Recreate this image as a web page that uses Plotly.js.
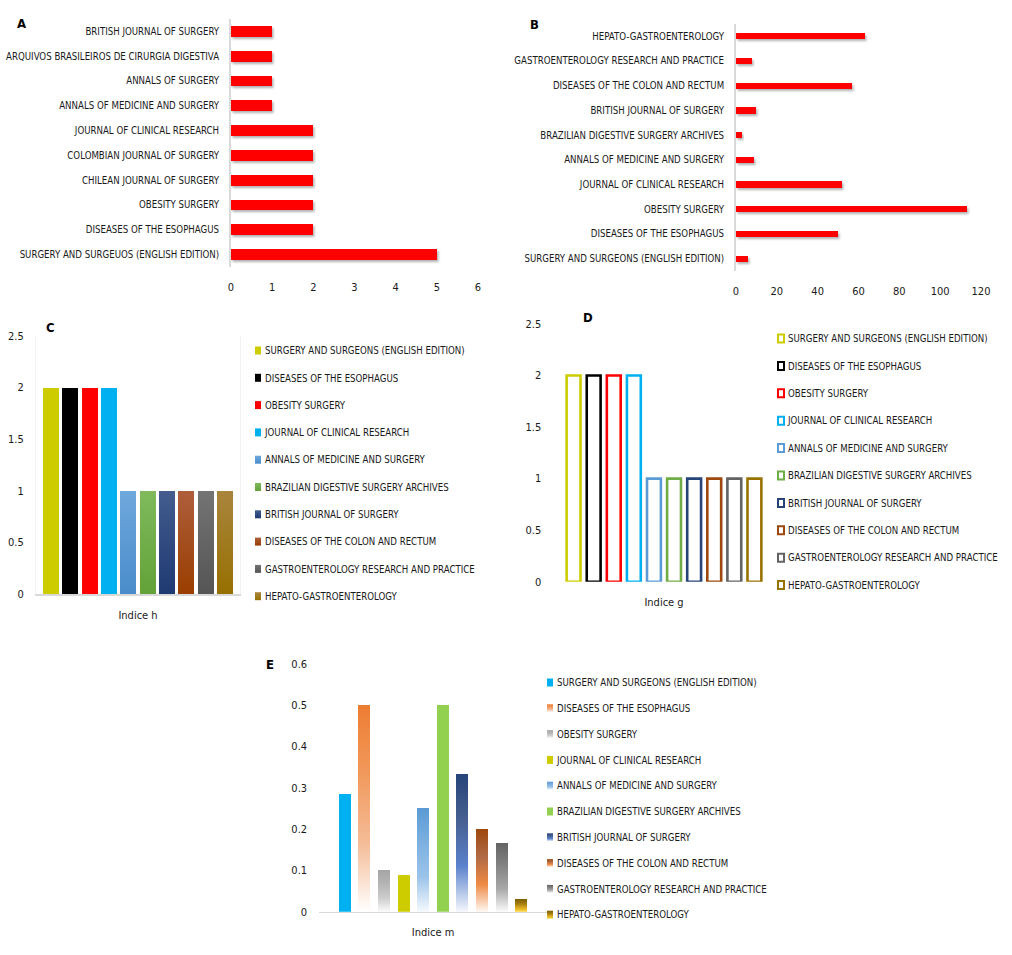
<!DOCTYPE html>
<html>
<head>
<meta charset="utf-8">
<script src="https://cdn.plot.ly/plotly-3.0.1.min.js"></script>
<style>
  body { margin: 0; background: #fff; }
  #chart { width: 1012px; height: 955px; }
  #grads { position: absolute; width: 0; height: 0; }
</style>
</head>
<body>
<svg id="grads"><defs id="gradDefs"></defs></svg>
<div id="chart"></div>
<script>
// panel A: number of articles (bottom to top)
const catA = ['SURGERY AND SURGEUOS (ENGLISH EDITION)', 'DISEASES OF THE ESOPHAGUS', 'OBESITY SURGERY',
  'CHILEAN JOURNAL OF SURGERY', 'COLOMBIAN JOURNAL OF SURGERY', 'JOURNAL OF CLINICAL RESEARCH',
  'ANNALS OF MEDICINE AND SURGERY', 'ANNALS OF SURGERY', 'ARQUIVOS BRASILEIROS DE CIRURGIA DIGESTIVA',
  'BRITISH JOURNAL OF SURGERY'];
const valA = [5, 2, 2, 2, 2, 2, 1, 1, 1, 1];

// journals used in B, C, D, E
const journals = ['SURGERY AND SURGEONS (ENGLISH EDITION)', 'DISEASES OF THE ESOPHAGUS', 'OBESITY SURGERY',
  'JOURNAL OF CLINICAL RESEARCH', 'ANNALS OF MEDICINE AND SURGERY', 'BRAZILIAN DIGESTIVE SURGERY ARCHIVES',
  'BRITISH JOURNAL OF SURGERY', 'DISEASES OF THE COLON AND RECTUM', 'GASTROENTEROLOGY RESEARCH AND PRACTICE',
  'HEPATO-GASTROENTEROLOGY'];
const valB = [6, 50, 113, 52, 9, 3, 10, 57, 8, 63];
const hIndex = [2, 2, 2, 2, 1, 1, 1, 1, 1, 1];
const gIndex = [2, 2, 2, 2, 1, 1, 1, 1, 1, 1];
const mIndex = [0.286, 0.5, 0.1, 0.09, 0.25, 0.5, 0.333, 0.2, 0.167, 0.03];

// colours
const colC = ['#CCCC00', '#000000', '#FF0000', '#00B0F0', '#5B9BD5', '#70AD47', '#264478', '#9E480E', '#636363', '#997300'];
const gradC = [null, null, null, null,
  ['#6FA8DC', '#4A8CCB'], ['#80BA5C', '#62A238'], ['#445C8E', '#1E3A72'],
  ['#AE5E3C', '#9A3E00'], ['#747474', '#555555'], ['#A9853E', '#977000']];
const colE = ['#00B0F0', '#ED7D31', '#A5A5A5', '#CCCC00', '#5B9BD5', '#92D050', '#264478', '#9E480E', '#636363', '#7F6000'];
const gradE = [null,
  ['#ED7D31', '#F1995C', '#F5BC97', '#FFFFFF'],
  ['#A5A5A5', '#B5B5B5', '#CDCDCD', '#FAFAFA'],
  null,
  ['#5B9BD5', '#7DB0E0', '#9CC4EA', '#F5F9FD'],
  null,
  ['#264478', '#475F91', '#5A82CC', '#F5F7FC'],
  ['#9E480E', '#B06A45', '#EE8A45', '#FFF8F2'],
  ['#636363', '#838383', '#A8A8A8', '#FAFAFA'],
  ['#7F6000', '#9E7A10', '#D8A820', '#FFD740']];

const FONT = '"DejaVu Sans Condensed", "Liberation Sans", sans-serif';
const W = 1012, H = 955;
const px = v => v / W;
const py = v => 1 - v / H;

const data = [];
data.push({
  type: 'bar', orientation: 'h', x: valA, y: catA, xaxis: 'x', yaxis: 'y',
  width: 0.44, marker: {color: '#FF0000'}, showlegend: false
});
data.push({
  type: 'bar', orientation: 'h', x: valB, y: journals, xaxis: 'x2', yaxis: 'y2',
  width: 0.25, marker: {color: '#FF0000'}, showlegend: false
});
journals.forEach((name, i) => {
  data.push({
    type: 'bar', name: name, x: ['Indice h'], y: [hIndex[i]], xaxis: 'x3', yaxis: 'y3',
    width: 0.083, marker: {color: colC[i]}, legend: 'legend', legendgroup: 'c' + i
  });
});
journals.forEach((name, i) => {
  data.push({
    type: 'bar', name: name, x: ['Indice g'], y: [gIndex[i]], xaxis: 'x4', yaxis: 'y4',
    width: 0.069, marker: {color: '#FFFFFF', line: {color: colC[i], width: 2.6}},
    legend: 'legend2', legendgroup: 'd' + i
  });
});
journals.forEach((name, i) => {
  data.push({
    type: 'bar', name: name, x: ['Indice m'], y: [mIndex[i]], xaxis: 'x5', yaxis: 'y5',
    width: 0.061, marker: {color: colE[i]}, legend: 'legend3', legendgroup: 'e' + i
  });
});

const tickFont = {family: FONT, size: 9.6, color: '#1a1a1a'};
const numFont = {family: FONT, size: 11, color: '#1a1a1a'};
const hidden = 'rgba(0,0,0,0)';

function valueAxis(extra) {
  return Object.assign({
    showgrid: false, zeroline: false, showline: false, tickfont: numFont,
    ticks: 'outside', tickcolor: hidden, fixedrange: true, automargin: false
  }, extra);
}

function legendBox(x, y, gap) {
  return {
    x: px(x), y: py(y), xanchor: 'left', yanchor: 'top', bgcolor: hidden, borderwidth: 0,
    traceorder: 'grouped', tracegroupgap: gap, font: {family: FONT, size: 9.6, color: '#1a1a1a'}
  };
}

function label(t, x, y) {
  return {text: '<b>' + t + '</b>', xref: 'paper', yref: 'paper', x: px(x), y: py(y),
    xanchor: 'center', yanchor: 'middle',
    showarrow: false, font: {family: FONT, size: 13, color: '#000'}};
}

const layout = {
  width: W, height: H, margin: {l: 0, r: 0, t: 0, b: 0, autoexpand: false},
  paper_bgcolor: '#fff', plot_bgcolor: hidden,
  barmode: 'group', bargap: 0, bargroupgap: 0,
  showlegend: true, hovermode: false,
  font: {family: FONT, size: 11, color: '#1a1a1a'},
  // A
  xaxis: valueAxis({domain: [px(231), px(478)], range: [0, 6], dtick: 1, anchor: 'y', ticklen: 10}),
  yaxis: valueAxis({domain: [py(267), py(19)], anchor: 'x', showline: true, linecolor: '#D9D9D9',
    linewidth: 2, ticklen: 8, type: 'category', tickfont: tickFont}),
  // B
  xaxis2: valueAxis({domain: [px(736), px(981)], range: [0, 120], dtick: 20, anchor: 'y2', ticklen: 10}),
  yaxis2: valueAxis({domain: [py(271), py(24)], anchor: 'x2', showline: true, linecolor: '#D9D9D9',
    linewidth: 2, ticklen: 8, type: 'category', tickfont: tickFont}),
  // C
  xaxis3: valueAxis({domain: [px(36), px(240)], range: [-0.5285, 0.5285], anchor: 'y3', type: 'category',
    showline: true, linecolor: '#D9D9D9', linewidth: 1.5, ticklen: 10}),
  yaxis3: valueAxis({domain: [py(594), py(336)], range: [0, 2.5], dtick: 0.5, anchor: 'x3', ticklen: 9,
    showline: true, mirror: true, linecolor: '#F2F2F2', linewidth: 1}),
  // D
  xaxis4: valueAxis({domain: [px(557.5), px(770.5)], range: [-0.53, 0.53], anchor: 'y4', type: 'category', ticklen: 10}),
  yaxis4: valueAxis({domain: [py(581.7), py(324)], range: [0, 2.5], dtick: 0.5, anchor: 'x4', ticklen: 13}),
  // E
  xaxis5: valueAxis({domain: [px(319.3), px(546.7)], range: [-0.58, 0.58], anchor: 'y5', type: 'category',
    showline: true, linecolor: '#D9D9D9', linewidth: 1.5, ticklen: 10}),
  yaxis5: valueAxis({domain: [py(911.7), py(664)], range: [0, 0.6], dtick: 0.1, anchor: 'x5', ticklen: 9}),
  legend: legendBox(225, 336, 8.3),
  legend2: legendBox(748, 324, 8.4),
  legend3: legendBox(517, 668, 6.8),
  annotations: [label('A', 21, 23.5), label('B', 534, 24), label('C', 50, 327), label('D', 588, 317), label('E', 269.5, 664.5)]
};

function addGradient(id, stops) {
  const ns = 'http://www.w3.org/2000/svg';
  const g = document.createElementNS(ns, 'linearGradient');
  g.setAttribute('id', id);
  g.setAttribute('x1', '0'); g.setAttribute('y1', '0');
  g.setAttribute('x2', '0'); g.setAttribute('y2', '1');
  stops.forEach((c, k) => {
    const s = document.createElementNS(ns, 'stop');
    s.setAttribute('offset', (k / (stops.length - 1)).toFixed(3));
    s.setAttribute('stop-color', c);
    g.appendChild(s);
  });
  document.getElementById('gradDefs').appendChild(g);
}

function addShadow() {
  const ns = 'http://www.w3.org/2000/svg';
  const f = document.createElementNS(ns, 'filter');
  f.setAttribute('id', 'barShadow');
  f.setAttribute('x', '-10%'); f.setAttribute('y', '-30%');
  f.setAttribute('width', '130%'); f.setAttribute('height', '190%');
  const d = document.createElementNS(ns, 'feDropShadow');
  d.setAttribute('dx', '1.5'); d.setAttribute('dy', '2');
  d.setAttribute('stdDeviation', '1.2');
  d.setAttribute('flood-color', '#000'); d.setAttribute('flood-opacity', '0.3');
  f.appendChild(d);
  document.getElementById('gradDefs').appendChild(f);
}

function fillFor(trace) {
  const i = journals.indexOf(trace.name);
  if (trace.xaxis === 'x3' && gradC[i]) return 'url(#gc' + i + ')';
  if (trace.xaxis === 'x5' && gradE[i]) return 'url(#ge' + i + ')';
  return null;
}

function decorate(gd) {
  gradC.forEach((s, i) => { if (s) addGradient('gc' + i, s); });
  gradE.forEach((s, i) => { if (s) addGradient('ge' + i, s); });
  addShadow();

  gd.querySelectorAll('g.trace.bars').forEach(g => {
    const tr = g.__data__ && g.__data__[0] && g.__data__[0].trace;
    if (!tr) return;
    const f = fillFor(tr);
    g.querySelectorAll('path').forEach(p => {
      if (f) p.style.fill = f;
      if (tr.orientation === 'h') p.setAttribute('filter', 'url(#barShadow)');
    });
  });

  gd.querySelectorAll('.infolayer g.traces').forEach(g => {
    const tr = g.__data__ && g.__data__[0] && g.__data__[0].trace;
    if (!tr) return;
    const p = g.querySelector('g.legendpoints path');
    if (!p) return;
    p.setAttribute('d', 'M3,4H-3V-4H3Z');
    p.setAttribute('transform', 'translate(33,0)');
    const f = fillFor(tr);
    if (f) p.style.fill = f;
    if (tr.xaxis === 'x4') p.style.strokeWidth = '2px';
  });
}

Plotly.newPlot('chart', data, layout, {staticPlot: true, displayModeBar: false}).then(decorate);
</script>
</body>
</html>
